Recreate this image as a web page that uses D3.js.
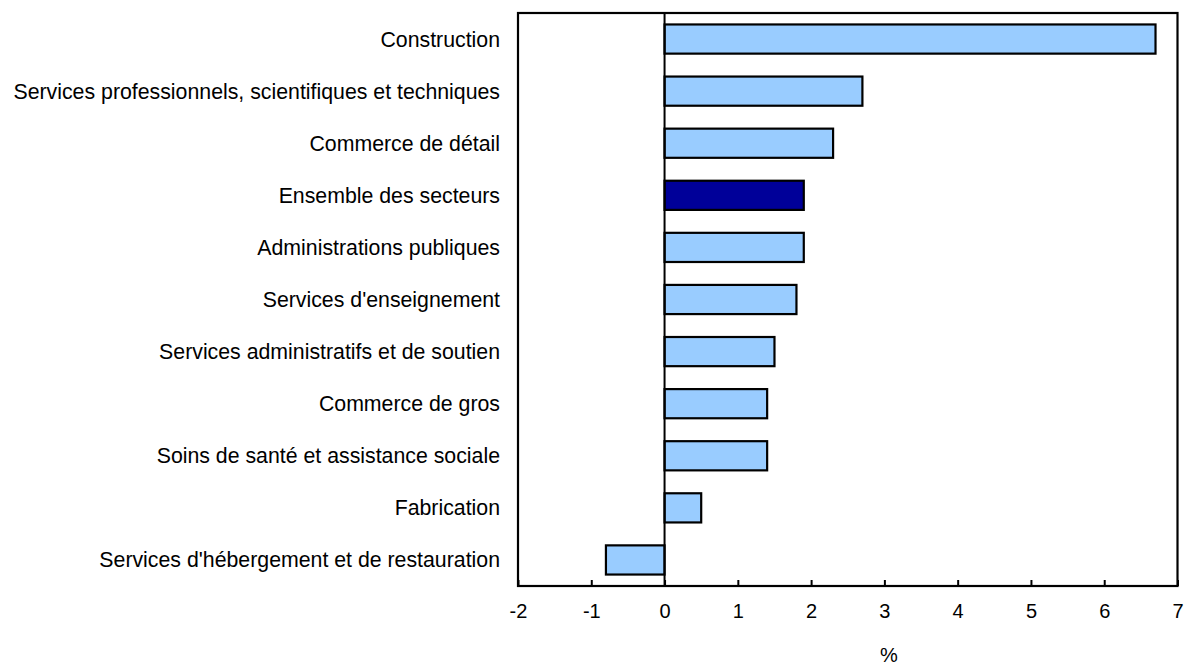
<!DOCTYPE html>
<html>
<head>
<meta charset="utf-8">
<script src="https://cdn.jsdelivr.net/npm/d3@7"></script>
<style>
  body { margin: 0; background: #fff; }
  svg { font-family: "Liberation Sans", Arial, sans-serif; }
</style>
</head>
<body>
<svg id="chart" width="1185" height="669"></svg>
<script>
(function() {

  // data
  let categories = [
    "Construction",
    "Services professionnels, scientifiques et techniques",
    "Commerce de détail",
    "Ensemble des secteurs",
    "Administrations publiques",
    "Services d'enseignement",
    "Services administratifs et de soutien",
    "Commerce de gros",
    "Soins de santé et assistance sociale",
    "Fabrication",
    "Services d'hébergement et de restauration"
  ];
  let values = [6.7, 2.7, 2.3, 1.9, 1.9, 1.8, 1.5, 1.4, 1.4, 0.5, -0.8];
  let highlight = ["Ensemble des secteurs"];
  let xTicks = [-2, -1, 0, 1, 2, 3, 4, 5, 6, 7];
  let xTitle = "%";

  let left = 518, right = 1177.5, top = 13, bottom = 586;

  let svg = d3.select("#chart");

  let xScale = d3.scaleLinear()
                 .domain([-2, 7])
                 .range([left, right]);
  let yScale = d3.scaleBand()
                 .domain(categories)
                 .range([top, bottom])
                 .paddingInner(0.44)
                 .paddingOuter(0.22);

  // bars
  svg.selectAll("rect.bar")
     .data(categories.map((c, i) => ({cat: c, v: values[i]})))
     .enter()
     .append("rect")
     .attr("class", "bar")
     .attr("x", d => xScale(Math.min(0, d.v)))
     .attr("y", d => yScale(d.cat))
     .attr("width", d => Math.abs(xScale(d.v) - xScale(0)))
     .attr("height", yScale.bandwidth())
     .attr("fill", d => highlight.includes(d.cat) ? "#000099" : "#99ccff")
     .attr("stroke", "#000")
     .attr("stroke-width", 2.2);

  // zero line
  svg.append("line")
     .attr("x1", xScale(0)).attr("x2", xScale(0))
     .attr("y1", top).attr("y2", bottom)
     .attr("stroke", "#000")
     .attr("stroke-width", 2);

  // frame
  svg.append("rect")
     .attr("x", left).attr("y", top)
     .attr("width", right - left).attr("height", bottom - top)
     .attr("fill", "none")
     .attr("stroke", "#000")
     .attr("stroke-width", 2.2);

  // x axis, ticks pointing inward
  let xAxis = d3.axisBottom()
                .scale(xScale)
                .tickValues(xTicks)
                .tickSizeInner(-6)
                .tickSizeOuter(0)
                .tickPadding(18)
                .tickFormat(d => String(d));
  let gx = svg.append("g")
     .attr("transform", "translate(0," + bottom + ")")
     .call(xAxis);
  gx.select(".domain").remove();
  gx.selectAll(".tick line").attr("stroke", "#000").attr("stroke-width", 2);
  gx.selectAll(".tick text")
    .attr("font-size", "20px")
    .attr("font-family", "Liberation Sans, Arial, sans-serif")
    .attr("fill", "#000");

  // category labels
  svg.selectAll("text.cat")
     .data(categories)
     .enter()
     .append("text")
     .attr("class", "cat")
     .attr("text-anchor", "end")
     .attr("x", 500)
     .attr("y", d => yScale(d) + yScale.bandwidth() / 2)
     .attr("dy", "0.35em")
     .attr("font-size", "21.3px")
     .attr("fill", "#000")
     .text(d => d);

  // axis title, kept just inside the bottom edge
  svg.append("text")
     .attr("text-anchor", "middle")
     .attr("x", 889)
     .attr("y", 662)
     .attr("font-size", "20px")
     .text(xTitle);

})();
</script>
</body>
</html>
